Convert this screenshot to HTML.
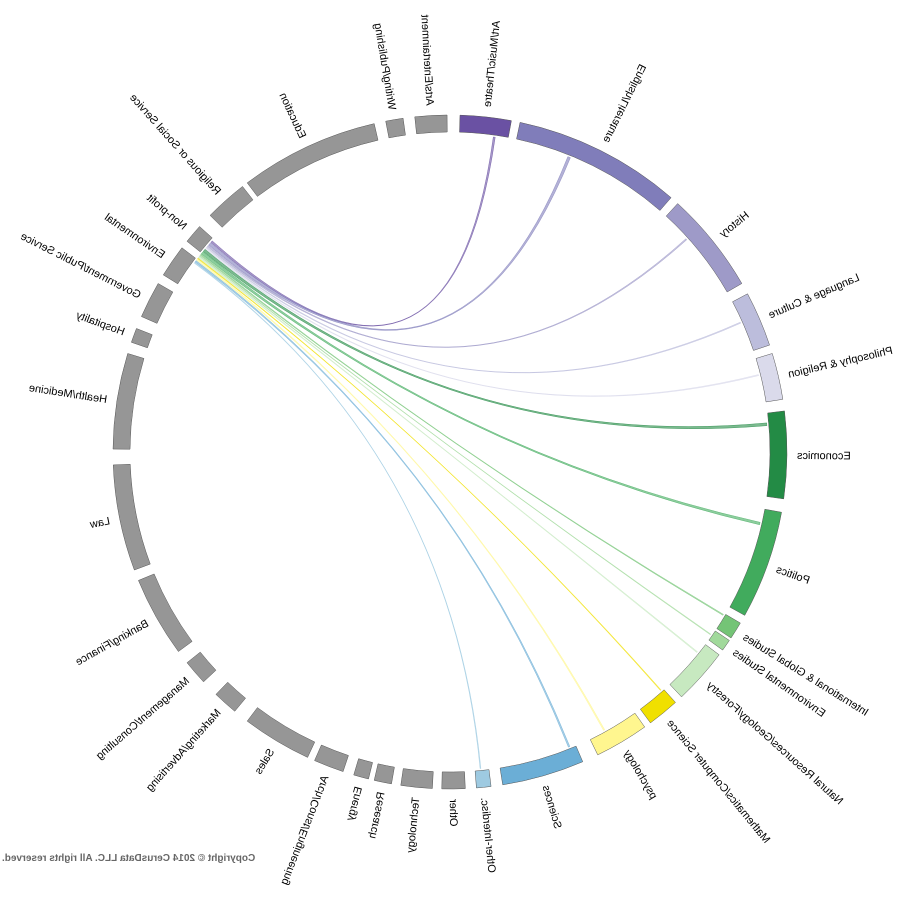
<!DOCTYPE html>
<html><head><meta charset="utf-8"><style>
html,body{margin:0;padding:0;background:#fff}
svg{display:block}
text{font-family:"Liberation Sans",sans-serif}
</style></head><body>
<svg id="chart" width="900" height="900" viewBox="0 0 900 900">
<g id="root" transform="translate(900,0) scale(-1,1)">
<g id="ribbons"></g>
<g id="arcs"></g>
<g id="labels"></g>
<text x="898" y="861" text-anchor="end" font-size="10" font-weight="bold" fill="#666">Copyright © 2014 CerusData LLC.  All rights reserved.</text>
</g>
</svg>
<script>
const categories=["Art/Music/Theatre","English/Literature","History","Language & Culture","Philosophy & Religion","Economics","Politics","International & Global Studies","Environmental Studies","Natural Resources/Geology/Forestry","Mathematics/Computer Science","psychology","Sciences","Other-Interdisc.","Other","Technology","Research","Energy","Arch/Const/Engineering","Sales","Marketing/Advertising","Management/Consulting","Banking/Finance","Law","Health/Medicine","Hospitality","Government/Public Service","Environmental","Non-profit","Religious or Social Service","Education","Writing/Publishing","Arts/Entertainment"];
const startDeg=[1.7,12,42.5,62,73,83,100.3,120.5,124,127,138,144.7,156.8,173,177.4,183,190,194,198.5,205,219.7,227,233.7,249.5,270.5,289,293.7,301.7,308.7,314.6,323,349,354];
const endDeg=[10.5,41,60,71.5,81,98,119,123.5,126,136.6,143.5,154,171,175.5,181.4,188.4,193,196.6,203.7,217,224,231.3,247.6,267.8,287,291.5,300,307.3,312,322,347,352,359.5];
const colors=["#6a51a3","#807dba","#9e9ac8","#bcbddc","#dadaeb","#238b45","#41ab5d","#74c476","#a1d99b","#c7e9c0","#f0e000","#fff68f","#6baed6","#9ecae1","#969696","#969696","#969696","#969696","#969696","#969696","#969696","#969696","#969696","#969696","#969696","#969696","#969696","#969696","#969696","#969696","#969696","#969696","#969696"];
const chordTargets=["Art/Music/Theatre","English/Literature","History","Language & Culture","Philosophy & Religion","Economics","Politics","International & Global Studies","Environmental Studies","Natural Resources/Geology/Forestry","Mathematics/Computer Science","psychology","Sciences","Other-Interdisc."];
const chordTargetDeg=[8,22,48,66,76,85,103,120.8,125,129,138.5,151,158,174.5];
const chordValues=[0.35,0.5,0.25,0.2,0.2,0.5,0.45,0.2,0.15,0.2,0.15,0.25,0.3,0.15];
const cx=450,cy=452,rIn=320,rOut=337,rRib=318;
const NS="http://www.w3.org/2000/svg";
function phi(t){return ((360-t)%360+360)%360;}
function pt(r,t){const a=phi(t)*Math.PI/180;return [cx+r*Math.sin(a),cy-r*Math.cos(a)];}
function arcPath(t0,t1){const a=pt(rOut,t0),b=pt(rOut,t1),c=pt(rIn,t1),d=pt(rIn,t0);
return `M${a}A${rOut},${rOut} 0 0 0 ${b}L${c}A${rIn},${rIn} 0 0 1 ${d}Z`;}
const arcs=document.getElementById('arcs'),labels=document.getElementById('labels'),ribs=document.getElementById('ribbons');
categories.forEach((c,i)=>{
 const p=document.createElementNS(NS,'path');
 p.setAttribute('d',arcPath(startDeg[i],endDeg[i]));
 p.setAttribute('fill',colors[i]);p.setAttribute('stroke','#555');p.setAttribute('stroke-width','0.5');
 
 
 arcs.appendChild(p);
 const f=phi((startDeg[i]+endDeg[i])/2);
 const t=document.createElementNS(NS,'text');
 let tr=`translate(${cx},${cy}) rotate(${f-90}) translate(${rOut+10},0)`;
 if(f>180){tr+=' rotate(180)';t.setAttribute('text-anchor','end');}
 t.setAttribute('transform',tr);t.setAttribute('dy','0.35em');t.setAttribute('font-size','11');
 t.textContent=c;
 
 
 labels.appendChild(t);
});
const src=categories.indexOf("Non-profit");
let s=endDeg[src]-0.4;
chordTargets.forEach((c,i)=>{
 const w=chordValues[i];const s1=s,s0=s-w;s-=w+0.1;
 const tc=chordTargetDeg[i];const t0=tc-w/2,t1=tc+w/2;
 const a=pt(rRib,s0),b=pt(rRib,s1),c1=pt(rRib,t0),d=pt(rRib,t1);
 const p=document.createElementNS(NS,'path');
 p.setAttribute('d',`M${a}A${rRib},${rRib} 0 0 0 ${b}Q${cx},${cy} ${c1}A${rRib},${rRib} 0 0 0 ${d}Q${cx},${cy} ${a}Z`);
 const col=colors[categories.indexOf(c)];
 p.setAttribute('fill',col);p.setAttribute('fill-opacity','0.6');p.setAttribute('stroke',col);p.setAttribute('stroke-opacity','0.8');p.setAttribute('stroke-width','0.5');
 
 
 ribs.appendChild(p);
});
</script>
</body></html>
